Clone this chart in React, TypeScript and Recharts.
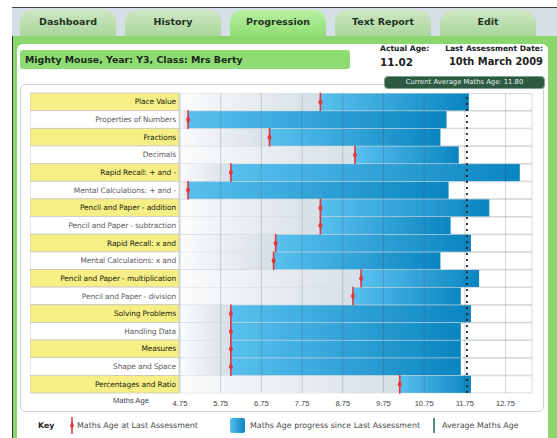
import React from 'react'
import { BarChart, Bar, XAxis, YAxis, ReferenceLine } from 'recharts'

const skills = [
  'Place Value',
  'Properties of Numbers',
  'Fractions',
  'Decimals',
  'Rapid Recall: + and -',
  'Mental Calculations: + and -',
  'Pencil and Paper - addition',
  'Pencil and Paper - subtraction',
  'Rapid Recall: x and',
  'Mental Calculations: x and',
  'Pencil and Paper - multiplication',
  'Pencil and Paper - division',
  'Solving Problems',
  'Handling Data',
  'Measures',
  'Shape and Space',
  'Percentages and Ratio',
]

// maths age at last assessment (red marker)
const lastAssessment = [8.2, 4.95, 6.95, 9.05, 6.0, 4.95, 8.2, 8.2, 7.1, 7.05, 9.2, 9.0, 6.0, 6.0, 6.0, 6.0, 10.15]
// current maths age (end of blue bar)
const currentAge = [11.85, 11.3, 11.15, 11.6, 13.1, 11.35, 12.35, 11.4, 11.9, 11.15, 12.1, 11.65, 11.9, 11.65, 11.65, 11.65, 11.9]

const ageTicks = [4.75, 5.75, 6.75, 7.75, 8.75, 9.75, 10.75, 11.75, 12.75]
const averageAge = 11.8
const tabs = ['Dashboard', 'History', 'Progression', 'Text Report', 'Edit']

const data = skills.map((skill, i) => ({
  skill,
  last: lastAssessment[i],
  progress: +(currentAge[i] - lastAssessment[i]).toFixed(2),
}))

const FONT = '"DejaVu Sans", Verdana, sans-serif'
const LABEL_W = 150
const PLOT_TOP = 8
const PLOT_H = 300
const ROW_H = PLOT_H / skills.length

function SkillTick(props: any) {
  const { y, payload, index } = props
  const yellow = index % 2 === 0
  return (
    <g>
      <rect x={0} y={y - ROW_H / 2} width={LABEL_W - 1} height={ROW_H} fill={yellow ? '#F6EF86' : '#fff'} stroke="#c4c4c4" strokeWidth={0.7} />
      <text x={LABEL_W - 4} y={y + 2.6} textAnchor="end" fontSize={7.5} fontFamily={FONT}
        fill={yellow ? '#1e1e10' : '#606060'} letterSpacing={-0.15}>
        {payload.value}
      </text>
    </g>
  )
}

function ProgressBar(props: any) {
  const { x, y, width, height } = props
  const mid = y + height / 2
  return (
    <g>
      <rect x={x} y={y} width={Math.max(width, 0)} height={height} fill="url(#blueGrad)" />
      <line x1={x} x2={x} y1={y - 0.8} y2={y + height + 0.8} stroke="#E2353D" strokeWidth={1.6} />
      <polygon points={`${x},${mid - 4} ${x + 2.2},${mid} ${x},${mid + 4} ${x - 2.2},${mid}`} fill="#E2353D" />
    </g>
  )
}

function Tab({ label, left, active }: { label: string; left: number; active: boolean }) {
  return (
    <div style={{
      position: 'absolute', left, top: 10, width: 96, height: 27,
      borderRadius: '12px 12px 0 0',
      background: active ? 'linear-gradient(#b8f0a2, #8fdc72)' : 'linear-gradient(#cfe6c4, #a9d59a)',
      textAlign: 'center', fontSize: 9.5, fontWeight: 'bold', color: '#1f331f', lineHeight: '24px',
    }}>{label}</div>
  )
}

export default function App() {
  return (
    <div style={{ position: 'fixed', left: 0, top: 0, width: 557, height: 438, background: '#fff', overflow: 'hidden', fontFamily: FONT }}>
      {/* frame + tabs */}
      <div style={{ position: 'absolute', left: 12, top: 7, width: 545, height: 31, background: '#d4dfe6', borderTop: '1px solid #444' }} />
      {tabs.map((t, i) => (
        <Tab key={t} label={t} left={20 + i * 105} active={t === 'Progression'} />
      ))}
      <div style={{ position: 'absolute', left: 12, top: 36, width: 545, height: 402, background: '#8bd66e', borderLeft: '1.5px solid #333' }} />
      <div style={{ position: 'absolute', left: 17, top: 44, width: 531, height: 394, background: '#fff', borderRadius: '6px 6px 0 0' }} />

      {/* header */}
      <div style={{ position: 'absolute', left: 20, top: 50, width: 330, height: 19, background: '#8edb73', borderRadius: 3,
        fontSize: 9.4, fontWeight: 'bold', color: '#1b2a1b', lineHeight: '19px', paddingLeft: 5, boxSizing: 'border-box' }}>
        Mighty Mouse, Year: Y3, Class: Mrs Berty
      </div>
      <div style={{ position: 'absolute', left: 380, top: 44, fontSize: 7.6, fontWeight: 'bold', color: '#222' }}>Actual Age:</div>
      <div style={{ position: 'absolute', left: 380, top: 56, fontSize: 10.4, fontWeight: 'bold', color: '#222' }}>11.02</div>
      <div style={{ position: 'absolute', right: 14, top: 44, fontSize: 7.6, fontWeight: 'bold', color: '#222', textAlign: 'right' }}>Last Assessment Date:</div>
      <div style={{ position: 'absolute', right: 14, top: 56, fontSize: 9.9, fontWeight: 'bold', color: '#222', textAlign: 'right' }}>10th March 2009</div>

      {/* chart panel */}
      <div style={{ position: 'absolute', left: 20, top: 84, width: 524, height: 328, border: '1px solid #cfd3d6', borderRadius: 6, boxSizing: 'border-box' }} />
      <div style={{ position: 'absolute', left: 384, top: 76, width: 161, height: 13, background: '#2d5a43', border: '1px solid #7fa08c', borderRadius: 4,
        boxSizing: 'border-box', color: '#e8f0ea', fontSize: 6.8, lineHeight: '11px', textAlign: 'center' }}>
        Current Average Maths Age: 11.80
      </div>

      <div style={{ position: 'absolute', left: 30, top: 85 }}>
        <BarChart width={512} height={PLOT_TOP + PLOT_H + 18} data={data} layout="vertical"
          margin={{ top: PLOT_TOP, right: 10, left: 0, bottom: 0 }} barCategoryGap={0.5}>
          <defs>
            <linearGradient id="blueGrad" x1="0" y1="0" x2="1" y2="0">
              <stop offset="0%" stopColor="#58c0ee" />
              <stop offset="100%" stopColor="#0a85c0" />
            </linearGradient>
            <linearGradient id="greyGrad" x1="0" y1="0" x2="1" y2="0">
              <stop offset="0%" stopColor="#fbfcfd" />
              <stop offset="100%" stopColor="#d6dfe6" />
            </linearGradient>
          </defs>
          <XAxis type="number" domain={[4.75, 13.4]} ticks={ageTicks} allowDataOverflow
            tickFormatter={(v: number) => v.toFixed(2)} axisLine={false} tickLine={false} height={18}
            tick={{ fontSize: 7.6, fill: '#444', fontFamily: '"Liberation Sans", Arial, sans-serif' }} tickMargin={2} />
          <YAxis type="category" dataKey="skill" width={LABEL_W} axisLine={false} tickLine={false} tick={<SkillTick />} interval={0} />
          <Bar dataKey="last" stackId="a" fill="url(#greyGrad)" isAnimationActive={false}
            background={{ fill: '#fff', stroke: '#c6cacd', strokeWidth: 0.7 }} />
          <Bar dataKey="progress" stackId="a" isAnimationActive={false} shape={<ProgressBar />} />
          {ageTicks.map(t => (
            <ReferenceLine key={t} x={t} stroke="#3a4a55" strokeOpacity={0.22} strokeWidth={1} />
          ))}
          <ReferenceLine x={averageAge} stroke="#16252a" strokeWidth={1.8} strokeDasharray="2 4" />
        </BarChart>
      </div>
      <div style={{ position: 'absolute', left: 113, top: 396, fontSize: 7.6, color: '#444', fontFamily: '"Liberation Sans", Arial, sans-serif' }}>Maths Age</div>

      {/* key */}
      <div style={{ position: 'absolute', left: 0, top: 412, width: 557, height: 26, fontSize: 7.9, color: '#4a4a4a', fontFamily: FONT }}>
        <span style={{ position: 'absolute', left: 38, top: 9, fontWeight: 'bold', color: '#222', fontSize: 7.8 }}>Key</span>
        <svg style={{ position: 'absolute', left: 69, top: 5, overflow: 'visible' }} width={6} height={17}>
          <line x1={3} x2={3} y1={0} y2={17} stroke="#E2353D" strokeWidth={1.5} />
          <polygon points="3,4.5 5,8.5 3,12.5 1,8.5" fill="#E2353D" />
        </svg>
        <span style={{ position: 'absolute', left: 77, top: 9 }}>Maths Age at Last Assessment</span>
        <div style={{ position: 'absolute', left: 230, top: 6, width: 15, height: 15, background: 'linear-gradient(90deg, #58c0ee, #0a85c0)', borderRadius: 2 }} />
        <span style={{ position: 'absolute', left: 250, top: 9 }}>Maths Age progress since Last Assessment</span>
        <div style={{ position: 'absolute', left: 433, top: 6, width: 2, height: 15, background: '#5b8a86' }} />
        <span style={{ position: 'absolute', left: 442, top: 9 }}>Average Maths Age</span>
      </div>
    </div>
  )
}
